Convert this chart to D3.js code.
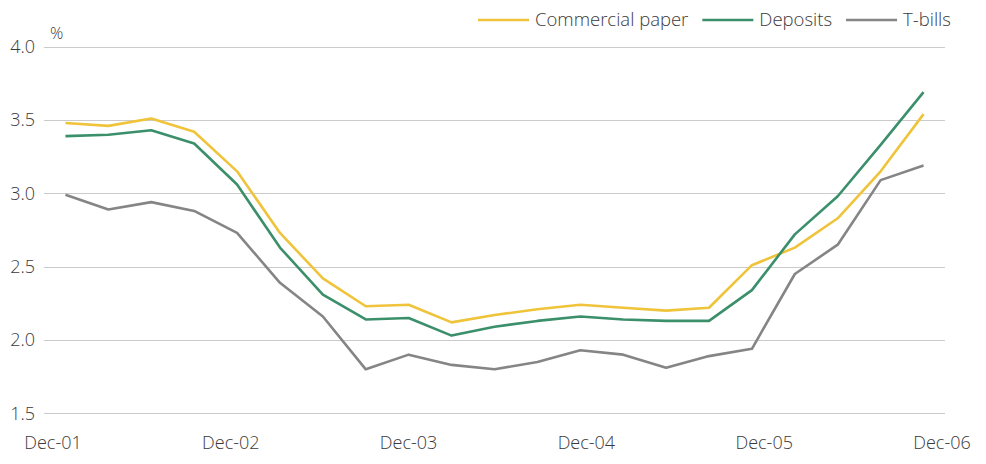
<!DOCTYPE html>
<html><head><meta charset="utf-8">
<script src="https://cdn.jsdelivr.net/npm/d3@7"></script>
<style>
html,body{margin:0;padding:0;background:#fff;}
text{font-family:"Open Sans","Noto Sans",sans-serif;font-weight:300;fill:#3a3a3a;}
</style></head>
<body><svg id="chart" width="986" height="464"></svg>
<script>
const periods = ["Dec-01","Mar-02","Jun-02","Sep-02","Dec-02","Mar-03","Jun-03","Sep-03","Dec-03","Mar-04","Jun-04","Sep-04","Dec-04","Mar-05","Jun-05","Sep-05","Dec-05","Mar-06","Jun-06","Sep-06","Dec-06"];
const commercialPaper = [3.48,3.46,3.51,3.42,3.15,2.73,2.42,2.23,2.24,2.12,2.17,2.21,2.24,2.22,2.20,2.22,2.51,2.63,2.83,3.15,3.54];
const deposits = [3.39,3.40,3.43,3.34,3.06,2.63,2.31,2.14,2.15,2.03,2.09,2.13,2.16,2.14,2.13,2.13,2.34,2.72,2.98,3.33,3.69];
const tBills = [2.99,2.89,2.94,2.88,2.73,2.39,2.16,1.80,1.90,1.83,1.80,1.85,1.93,1.90,1.81,1.89,1.94,2.45,2.65,3.09,3.19];
const xTickLabels = ["Dec-01","Dec-02","Dec-03","Dec-04","Dec-05","Dec-06"];
const yTicks = [1.5,2.0,2.5,3.0,3.5,4.0];
const seriesNames = ["Commercial paper","Deposits","T-bills"];
const seriesColors = ["#efc43b","#3b8f6b","#858585"];

const svg = d3.select("#chart");
const plotLeft = 44, plotRight = 945, plotTop = 46.7, plotBottom = 413.3;

const x = d3.scalePoint().domain(periods).range([plotLeft, plotRight]).padding(0.5);
const y = d3.scaleLinear().domain([1.5, 4.0]).range([plotBottom, plotTop]);
const xLab = d3.scalePoint().domain(xTickLabels).range([53, 942]);

// gridlines
svg.append("g").selectAll("line").data(yTicks).join("line")
  .attr("x1", plotLeft).attr("x2", plotRight)
  .attr("y1", d => Math.round(y(d)) + 0.5).attr("y2", d => Math.round(y(d)) + 0.5)
  .attr("stroke", "#cbcbcb").attr("stroke-width", 1.2);

// y labels
svg.append("g").selectAll("text").data(yTicks).join("text")
  .attr("x", 35).attr("y", d => y(d)).attr("dy", "0.35em")
  .attr("text-anchor", "end").attr("font-size", 18)
  .text(d => d3.format(".1f")(d));

svg.append("text").attr("x", 50).attr("y", 39).attr("font-size", 16.5).text("%");

// x labels
svg.append("g").selectAll("text").data(xTickLabels).join("text")
  .attr("x", d => xLab(d)).attr("y", 449).attr("text-anchor", "middle")
  .attr("font-size", 18).text(d => d);

// lines
const allSeries = [commercialPaper, deposits, tBills];
const line = d3.line().x((d, i) => x(periods[i])).y(d => y(d));
allSeries.forEach((s, k) => {
  svg.append("path").datum(s).attr("d", line)
    .attr("fill", "none").attr("stroke", seriesColors[k])
    .attr("stroke-width", 2.6).attr("stroke-linejoin", "round");
});

// legend
const leg = svg.append("g");
let cx = 478;
seriesNames.forEach((n, k) => {
  leg.append("line").attr("x1", cx).attr("x2", cx + 51).attr("y1", 20).attr("y2", 20)
    .attr("stroke", seriesColors[k]).attr("stroke-width", 2.6);
  const t = leg.append("text").attr("x", cx + 57).attr("y", 20).attr("dy", "0.35em")
    .attr("font-size", 18.5).text(n);
  cx = cx + 57 + t.node().getComputedTextLength() + 14;
});
</script></body></html>
